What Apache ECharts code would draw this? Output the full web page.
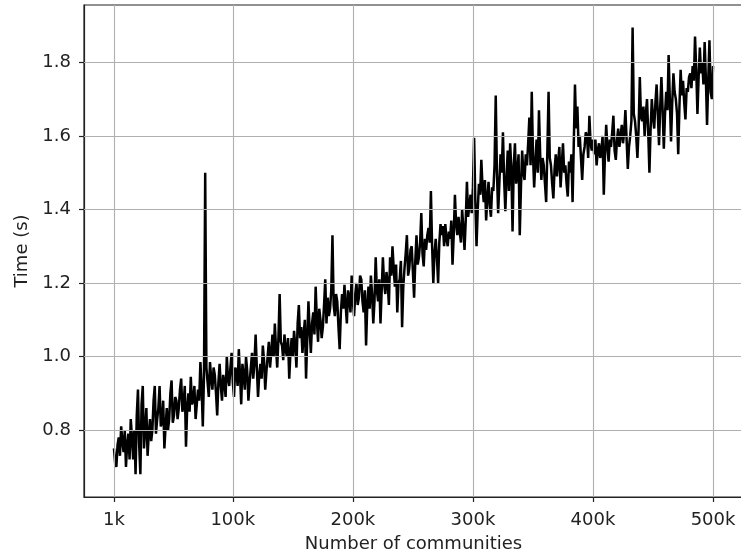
<!DOCTYPE html>
<html>
<head>
<meta charset="utf-8">
<script src="https://cdn.jsdelivr.net/npm/echarts@6/dist/echarts.min.js"></script>
<style>html,body{margin:0;padding:0;background:#fff}#c{width:741px;height:555px}</style>
</head>
<body>
<div id="c"></div>
<script>
// Number of communities (in thousands)
const communitiesK = [
  1,2,3,4,5,6,7,8,9,10,11,12,13,14,15,16,17,18,19,20,
  21,22,23,24,25,26,27,28,29,30,31,32,33,34,35,36,37,38,39,40,
  41,42,43,44,45,46,47,48,49,50,51,52,53,54,55,56,57,58,59,60,
  61,62,63,64,65,66,67,68,69,70,71,72,73,74,75,76,77,78,79,80,
  81,82,83,84,85,86,87,88,89,90,91,92,93,94,95,96,97,98,99,100,
  101,102,103,104,105,106,107,108,109,110,111,112,113,114,115,116,117,118,119,120,
  121,122,123,124,125,126,127,128,129,130,131,132,133,134,135,136,137,138,139,140,
  141,142,143,144,145,146,147,148,149,150,151,152,153,154,155,156,157,158,159,160,
  161,162,163,164,165,166,167,168,169,170,171,172,173,174,175,176,177,178,179,180,
  181,182,183,184,185,186,187,188,189,190,191,192,193,194,195,196,197,198,199,200,
  201,202,203,204,205,206,207,208,209,210,211,212,213,214,215,216,217,218,219,220,
  221,222,223,224,225,226,227,228,229,230,231,232,233,234,235,236,237,238,239,240,
  241,242,243,244,245,246,247,248,249,250,251,252,253,254,255,256,257,258,259,260,
  261,262,263,264,265,266,267,268,269,270,271,272,273,274,275,276,277,278,279,280,
  281,282,283,284,285,286,287,288,289,290,291,292,293,294,295,296,297,298,299,300,
  301,302,303,304,305,306,307,308,309,310,311,312,313,314,315,316,317,318,319,320,
  321,322,323,324,325,326,327,328,329,330,331,332,333,334,335,336,337,338,339,340,
  341,342,343,344,345,346,347,348,349,350,351,352,353,354,355,356,357,358,359,360,
  361,362,363,364,365,366,367,368,369,370,371,372,373,374,375,376,377,378,379,380,
  381,382,383,384,385,386,387,388,389,390,391,392,393,394,395,396,397,398,399,400,
  401,402,403,404,405,406,407,408,409,410,411,412,413,414,415,416,417,418,419,420,
  421,422,423,424,425,426,427,428,429,430,431,432,433,434,435,436,437,438,439,440,
  441,442,443,444,445,446,447,448,449,450,451,452,453,454,455,456,457,458,459,460,
  461,462,463,464,465,466,467,468,469,470,471,472,473,474,475,476,477,478,479,480,
  481,482,483,484,485,486,487,488,489,490,491,492,493,494,495,496,497,498,499,500
];
// Time (s)
const timeSec = [
  0.75,0.71,0.70,0.76,0.78,0.73,0.81,0.77,0.74,0.80,0.70,0.76,0.79,0.72,0.83,0.78,0.72,0.80,0.68,0.84,
  0.91,0.76,0.68,0.87,0.92,0.75,0.80,0.86,0.73,0.79,0.83,0.77,0.80,0.88,0.92,0.79,0.83,0.86,0.92,0.81,
  0.82,0.88,0.75,0.81,0.86,0.80,0.83,0.90,0.935,0.82,0.84,0.89,0.88,0.83,0.86,0.91,0.94,0.85,0.87,0.92,
  0.755,0.86,0.90,0.85,0.945,0.87,0.88,0.92,0.83,0.87,0.91,0.88,0.985,0.92,0.81,0.95,1.50,0.97,0.93,0.89,
  0.985,0.94,0.91,0.97,0.95,0.90,0.84,0.93,0.98,0.92,0.88,0.95,0.93,0.89,1.00,0.94,0.92,0.97,1.01,0.93,
  0.89,0.97,0.96,0.92,1.02,0.95,0.87,0.98,0.95,0.91,1.00,0.96,0.88,0.93,0.97,1.01,0.94,0.98,1.06,0.97,
  0.89,0.95,0.98,0.94,1.03,0.99,0.91,0.96,1.00,1.04,0.97,1.01,1.06,1.00,1.09,1.02,0.97,1.05,1.17,1.04,
  1.03,0.99,1.06,1.02,1.00,1.05,0.94,1.01,1.05,1.00,1.07,1.03,0.97,1.09,1.14,1.05,1.08,1.01,1.06,1.10,
  0.94,1.05,1.15,1.07,1.01,1.09,1.12,1.06,1.19,1.10,1.04,1.13,1.10,1.05,1.08,1.14,1.21,1.09,1.16,1.11,
  1.13,1.18,1.33,1.14,1.11,1.17,1.15,1.08,1.02,1.12,1.17,1.13,1.195,1.14,1.09,1.18,1.16,1.12,1.22,1.15,
  1.11,1.17,1.20,1.14,1.16,1.22,1.21,1.15,1.12,1.18,1.03,1.14,1.19,1.13,1.22,1.17,1.09,1.15,1.27,1.18,
  1.15,1.21,1.09,1.18,1.27,1.20,1.17,1.23,1.20,1.14,1.27,1.22,1.30,1.24,1.19,1.25,1.12,1.20,1.21,1.26,
  1.08,1.19,1.24,1.28,1.33,1.22,1.24,1.29,1.30,1.23,1.16,1.26,1.33,1.25,1.27,1.31,1.39,1.28,1.245,1.32,
  1.29,1.33,1.35,1.31,1.45,1.30,1.20,1.28,1.32,1.27,1.20,1.31,1.36,1.33,1.355,1.30,1.36,1.32,1.30,1.34,
  1.32,1.37,1.25,1.33,1.44,1.36,1.33,1.38,1.34,1.31,1.40,1.35,1.29,1.37,1.475,1.38,1.41,1.44,1.39,1.46,
  1.595,1.42,1.30,1.40,1.47,1.44,1.535,1.46,1.42,1.48,1.37,1.43,1.475,1.41,1.38,1.46,1.45,1.52,1.71,1.50,
  1.39,1.47,1.55,1.50,1.61,1.48,1.395,1.49,1.56,1.45,1.58,1.51,1.34,1.52,1.58,1.47,1.50,1.55,1.33,1.46,
  1.56,1.50,1.48,1.55,1.52,1.58,1.65,1.52,1.72,1.55,1.46,1.53,1.59,1.50,1.67,1.55,1.48,1.54,1.52,1.47,
  1.42,1.56,1.72,1.54,1.52,1.47,1.43,1.51,1.55,1.49,1.53,1.57,1.46,1.52,1.58,1.50,1.52,1.47,1.435,1.53,
  1.50,1.55,1.42,1.58,1.74,1.62,1.68,1.57,1.60,1.54,1.48,1.55,1.57,1.61,1.60,1.54,1.655,1.58,1.56,1.59,
  1.55,1.59,1.52,1.56,1.58,1.54,1.56,1.60,1.44,1.55,1.63,1.57,1.53,1.59,1.57,1.61,1.655,1.56,1.535,1.59,
  1.62,1.57,1.60,1.63,1.58,1.61,1.67,1.59,1.51,1.57,1.60,1.64,1.895,1.66,1.64,1.60,1.54,1.62,1.76,1.65,
  1.64,1.68,1.60,1.66,1.70,1.61,1.50,1.62,1.70,1.65,1.62,1.69,1.74,1.66,1.575,1.68,1.76,1.67,1.565,1.66,
  1.72,1.67,1.82,1.70,1.585,1.69,1.77,1.72,1.70,1.66,1.55,1.68,1.78,1.71,1.75,1.69,1.645,1.73,1.72,1.76,
  1.77,1.73,1.79,1.75,1.87,1.78,1.66,1.76,1.84,1.77,1.80,1.74,1.855,1.76,1.63,1.75,1.86,1.72,1.70,1.79
];
const xTickValues = [1, 100, 200, 300, 400, 500];
const xTickLabels = ['1k', '100k', '200k', '300k', '400k', '500k'];
const yTickValues = [0.8, 1.0, 1.2, 1.4, 1.6, 1.8];

const FONT = 'DejaVu Sans';
const TXT = '#222';
const chart = echarts.init(document.getElementById('c'), null, {renderer: 'canvas'});
const seriesData = communitiesK.map((x, i) => [x, timeSec[i]]);

const gridLines = [];
xTickValues.forEach(v => gridLines.push({xAxis: v}));
yTickValues.forEach(v => gridLines.push({yAxis: v}));

chart.setOption({
  animation: false,
  backgroundColor: '#fff',
  grid: {left: 84, right: -2, top: 5, bottom: 58, outerBoundsMode: 'none', containLabel: false,
    show: true, borderColor: '#222', borderWidth: 1.2, backgroundColor: 'transparent'},
  xAxis: {
    type: 'value', min: -23.95, max: 524.95,
    name: 'Number of communities', nameLocation: 'middle', nameGap: 38,
    nameTextStyle: {fontFamily: FONT, fontSize: 18, color: TXT},
    axisLine: {show: true, onZero: false, lineStyle: {color: '#222', width: 1.2}},
    axisTick: {show: true, length: 5, customValues: xTickValues, lineStyle: {color: '#222', width: 1.2}},
    axisLabel: {customValues: xTickValues, margin: 14, fontFamily: FONT, fontSize: 18, color: TXT,
      formatter: v => { const k = xTickValues.indexOf(v); return k >= 0 ? xTickLabels[k] : ''; }},
    splitLine: {show: false}
  },
  yAxis: {
    type: 'value', min: 0.618, max: 1.956,
    name: 'Time (s)', nameLocation: 'middle', nameGap: 53,
    nameTextStyle: {fontFamily: FONT, fontSize: 18, color: TXT},
    axisLine: {show: true, onZero: false, lineStyle: {color: '#222', width: 1.2}},
    axisTick: {show: true, length: 5, customValues: yTickValues, lineStyle: {color: '#222', width: 1.2}},
    axisLabel: {customValues: yTickValues, margin: 13, fontFamily: FONT, fontSize: 18, color: TXT,
      formatter: v => v.toFixed(1)},
    splitLine: {show: false}
  },
  series: [
    {
      type: 'line', data: [], z: 1, silent: true,
      markLine: {silent: true, symbol: 'none', label: {show: false},
        lineStyle: {color: '#b0b0b0', width: 1.1, type: 'solid'}, data: gridLines}
    },
    {
      type: 'line', data: seriesData, z: 3, showSymbol: false, symbol: 'none',
      lineStyle: {color: '#000', width: 2.5}, silent: true
    }
  ]
});
</script>
</body>
</html>
